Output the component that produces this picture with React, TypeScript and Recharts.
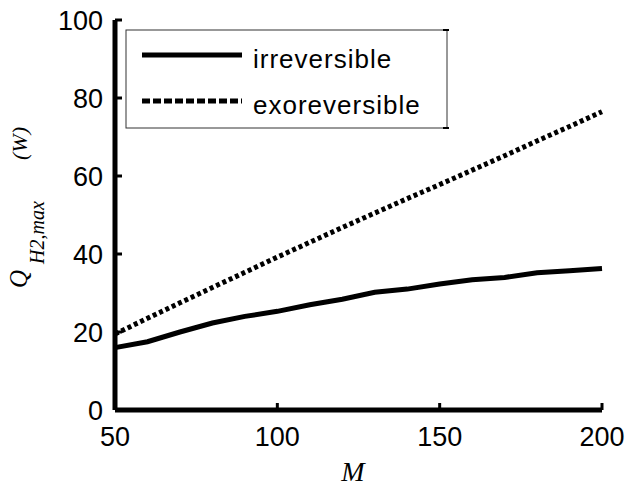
import { LineChart, Line, XAxis, YAxis } from "recharts";

const mValues = [50, 60, 70, 80, 90, 100, 110, 120, 130, 140, 150, 160, 170, 180, 190, 200];
const irreversible = [16, 17.5, 20, 22.3, 24, 25.3, 27, 28.4, 30.2, 31, 32.3, 33.4, 34, 35.2, 35.7, 36.3];
const exoreversible = [19.5, 23.5, 27.5, 31.4, 35.3, 39.2, 43, 46.8, 50.5, 54.2, 57.8, 61.5, 65.2, 69, 72.7, 76.5];
const xTicks = [50, 100, 150, 200];
const yTicks = [0, 20, 40, 60, 80, 100];
const seriesNames = ["irreversible", "exoreversible"];

const data = mValues.map((m, i) => ({ m, irr: irreversible[i], exo: exoreversible[i] }));

const tickFont = { fill: "#000", fontSize: 27, fontFamily: "Liberation Sans, Arial, sans-serif" };
const axisLine = { stroke: "#000", strokeWidth: 5 };
const tickLine = { stroke: "#000", strokeWidth: 3 };
const blank = () => "";

export default function App() {
    return (
        <div style={{ position: "absolute", left: 0, top: 0, width: 628, height: 490, background: "#fff" }}>
            <LineChart width={628} height={490} data={data} margin={{ top: 20, right: 26, bottom: 20, left: 0 }}>
                <XAxis dataKey="m" type="number" domain={[50, 200]} ticks={xTicks} height={60}
                    axisLine={axisLine} tickLine={tickLine} tickSize={-7} tickMargin={24} tick={tickFont} />
                <XAxis xAxisId="top" orientation="top" dataKey="m" type="number" domain={[50, 200]} ticks={xTicks} height={0}
                    axisLine={axisLine} tickLine={tickLine} tickSize={-7} tickFormatter={blank} />
                <YAxis domain={[0, 100]} ticks={yTicks} width={115}
                    axisLine={axisLine} tickLine={tickLine} tickSize={-7} tickMargin={19} tick={tickFont} />
                <YAxis yAxisId="right" orientation="right" domain={[0, 100]} ticks={yTicks} width={0}
                    axisLine={axisLine} tickLine={tickLine} tickSize={-7} tickFormatter={blank} />
                <Line dataKey="irr" stroke="#000" strokeWidth={5} dot={false} isAnimationActive={false} />
                <Line dataKey="exo" stroke="#000" strokeWidth={5} strokeDasharray="4 3" dot={false} isAnimationActive={false} />
            </LineChart>
            <svg width={628} height={490} style={{ position: "absolute", left: 0, top: 0, pointerEvents: "none" }}>
                {/* legend */}
                <rect x={126} y={30} width={321} height={98} fill="#fff" stroke="#333" strokeWidth={1} />
                <line x1={443} y1={30} x2={449} y2={30} stroke="#000" strokeWidth={2} />
                <line x1={443} y1={128} x2={449} y2={128} stroke="#000" strokeWidth={2} />
                <line x1={142} y1={55} x2={242} y2={55} stroke="#000" strokeWidth={5} />
                <line x1={142} y1={101} x2={242} y2={101} stroke="#000" strokeWidth={5} strokeDasharray="8 3" />
                <text x={253} y={68} fontSize={26} letterSpacing={1} fontFamily="Liberation Sans, Arial, sans-serif">{seriesNames[0]}</text>
                <text x={253} y={114} fontSize={26} letterSpacing={1} fontFamily="Liberation Sans, Arial, sans-serif">{seriesNames[1]}</text>

                {/* axis titles */}
                <g fontFamily="Liberation Serif, Times New Roman, serif" fontStyle="italic">
                    <text transform="translate(27,288) rotate(-90)" fontSize={25}>Q</text>
                    <text transform="translate(44,264) rotate(-90)" fontSize={20}>H2,max</text>
                    <text transform="translate(27,160) rotate(-90)" fontSize={22}>(W)</text>
                    <text x={353} y={481} fontSize={28} textAnchor="middle">M</text>
                </g>
            </svg>
        </div>
    );
}
